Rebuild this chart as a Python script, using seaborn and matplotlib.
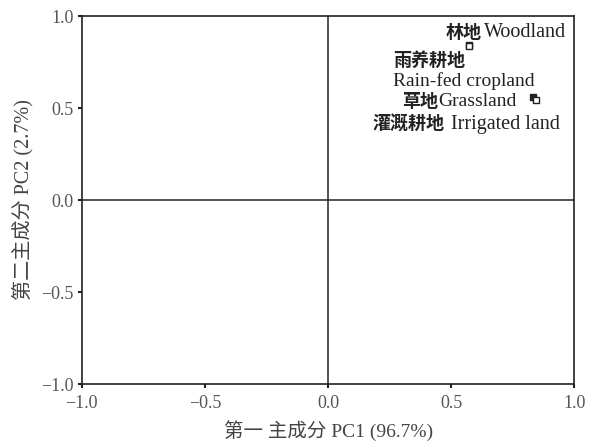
import pandas as pd
import matplotlib
matplotlib.use("Agg")
import matplotlib.pyplot as plt
import seaborn as sns

# ── Data (PCA loadings) ─────────────────────────────────────────────────────
LAND_USE = ["Woodland", "Rain-fed cropland", "Grassland", "Irrigated land"]
PC1 = [0.573, 0.571, 0.834, 0.846]
PC2 = [0.842, 0.838, 0.560, 0.544]
FILLED = [False, False, True, False]

X_LABEL = "第一 主成分 PC1 (96.7%)"
Y_LABEL = "第二主成分 PC2 (2.7%)"
TICKS = [-1.0, -0.5, 0.0, 0.5, 1.0]

INK = "#222222"
SERIF = ["Liberation Serif", "Noto Sans CJK SC", "DejaVu Sans"]
CJK = ["Noto Sans CJK SC", "DejaVu Sans"]

sns.set_theme(style="ticks")
plt.rcParams.update({
    "font.family": SERIF,
    "axes.edgecolor": INK,
    "axes.linewidth": 1.2,
    "xtick.color": INK,
    "ytick.color": INK,
    "text.color": INK,
})

df = pd.DataFrame({"land": LAND_USE, "pc1": PC1, "pc2": PC2, "filled": FILLED})

fig = plt.figure(figsize=(5.89, 4.45), dpi=100, facecolor="white")
ax = fig.add_axes([0.139, 0.137, 0.836, 0.827])

ax.axhline(0, color=INK, lw=1.1, zorder=1)
ax.axvline(0, color=INK, lw=1.1, zorder=1)

sns.scatterplot(data=df[~df["filled"]], x="pc1", y="pc2", ax=ax, marker="s",
                s=16, facecolor="white", edgecolor=INK, linewidth=1.0, zorder=4)
sns.scatterplot(data=df[df["filled"]], x="pc1", y="pc2", ax=ax, marker="s",
                s=16, color=INK, edgecolor=INK, linewidth=1.0, zorder=3)


def label(x, y, cjk, latin, gap=2, size=14.5):
    """Bold Chinese part followed by a serif English part."""
    t = ax.text(x, y, cjk, ha="left", va="center", fontsize=13,
                family=CJK, fontweight="bold")
    if latin:
        ax.annotate(latin, xy=(1, 0.5), xycoords=t, xytext=(gap, 0),
                    textcoords="offset points", ha="left", va="center",
                    fontsize=size, family=SERIF)


label(0.476, 0.913, "林地", "Woodland", gap=2)
label(0.264, 0.761, "雨养耕地", "")
ax.text(0.264, 0.647, "Rain-fed cropland", ha="left", va="center", fontsize=14)
label(0.301, 0.538, "草地", "Grassland", gap=0, size=14)
label(0.179, 0.413, "灌溉耕地", "Irrigated land", gap=5)

ax.set_xlim(-1, 1)
ax.set_ylim(-1, 1)
ax.set_xticks(TICKS)
ax.set_yticks(TICKS)
ax.set_xticklabels([f"{t:.1f}".replace("-", "−") for t in TICKS])
ax.set_yticklabels([f"{t:.1f}".replace("-", "−") for t in TICKS])
ax.tick_params(direction="out", length=3, width=1.5, labelsize=13, pad=3, labelcolor="#555555")
ax.tick_params(axis="x", pad=5)
ax.set_xlabel(X_LABEL, fontsize=14, labelpad=6, color="#444444")
ax.set_ylabel(Y_LABEL, fontsize=14.5, labelpad=5, color="#444444")

for s in ax.spines.values():
    s.set_visible(True)

fig.savefig("out.png", dpi=100, facecolor="white")
plt.close(fig)
